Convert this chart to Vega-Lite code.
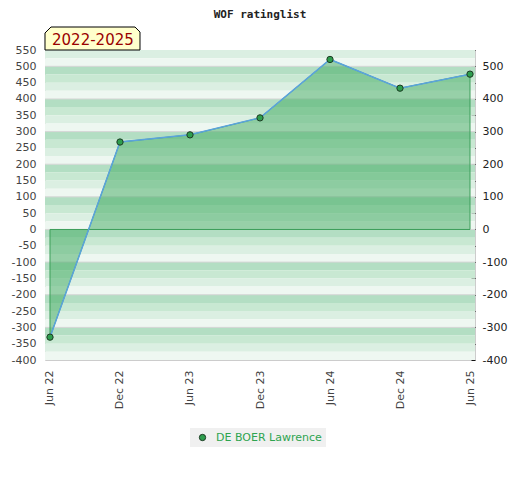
{
  "$schema": "https://vega.github.io/schema/vega-lite/v6.json",
  "description": "WOF ratinglist",
  "autosize": {"type": "none"},
  "padding": {"left": 45, "top": 50, "right": 45, "bottom": 120},
  "width": 430,
  "height": 310,
  "title": {
    "text": "WOF ratinglist",
    "font": "DejaVu Sans Mono",
    "fontSize": 11,
    "fontWeight": "bold",
    "color": "#222222",
    "anchor": "middle",
    "baseline": "alphabetic",
    "offset": 9,
    "dy": 13
  },
  "datasets": {
    "ratings": [
      {"period": "Jun 22", "rating": -330, "player": "DE BOER Lawrence"},
      {"period": "Dec 22", "rating": 268, "player": "DE BOER Lawrence"},
      {"period": "Jun 23", "rating": 290, "player": "DE BOER Lawrence"},
      {"period": "Dec 23", "rating": 342, "player": "DE BOER Lawrence"},
      {"period": "Jun 24", "rating": 521, "player": "DE BOER Lawrence"},
      {"period": "Dec 24", "rating": 433, "player": "DE BOER Lawrence"},
      {"period": "Jun 25", "rating": 476, "player": "DE BOER Lawrence"}
    ],
    "stripes": [
      {"from": 550, "to": 525, "band": "C"},
      {"from": 525, "to": 500, "band": "D"},
      {"from": 500, "to": 475, "band": "A"},
      {"from": 475, "to": 450, "band": "B"},
      {"from": 450, "to": 425, "band": "C"},
      {"from": 425, "to": 400, "band": "D"},
      {"from": 400, "to": 375, "band": "A"},
      {"from": 375, "to": 350, "band": "B"},
      {"from": 350, "to": 325, "band": "C"},
      {"from": 325, "to": 300, "band": "D"},
      {"from": 300, "to": 275, "band": "A"},
      {"from": 275, "to": 250, "band": "B"},
      {"from": 250, "to": 225, "band": "C"},
      {"from": 225, "to": 200, "band": "D"},
      {"from": 200, "to": 175, "band": "A"},
      {"from": 175, "to": 150, "band": "B"},
      {"from": 150, "to": 125, "band": "C"},
      {"from": 125, "to": 100, "band": "D"},
      {"from": 100, "to": 75, "band": "A"},
      {"from": 75, "to": 50, "band": "B"},
      {"from": 50, "to": 25, "band": "C"},
      {"from": 25, "to": 0, "band": "D"},
      {"from": 0, "to": -25, "band": "A"},
      {"from": -25, "to": -50, "band": "B"},
      {"from": -50, "to": -75, "band": "C"},
      {"from": -75, "to": -100, "band": "D"},
      {"from": -100, "to": -125, "band": "A"},
      {"from": -125, "to": -150, "band": "B"},
      {"from": -150, "to": -175, "band": "C"},
      {"from": -175, "to": -200, "band": "D"},
      {"from": -200, "to": -225, "band": "A"},
      {"from": -225, "to": -250, "band": "B"},
      {"from": -250, "to": -275, "band": "C"},
      {"from": -275, "to": -300, "band": "D"},
      {"from": -300, "to": -325, "band": "A"},
      {"from": -325, "to": -350, "band": "B"},
      {"from": -350, "to": -375, "band": "C"},
      {"from": -375, "to": -400, "band": "D"}
    ],
    "gridlines": [
      {"value": 500}, {"value": 400}, {"value": 300}, {"value": 200},
      {"value": 100}, {"value": 0}, {"value": -100}, {"value": -200},
      {"value": -300}
    ]
  },
  "layer": [
    {
      "data": {"name": "stripes"},
      "mark": "rect",
      "encoding": {
        "y": {
          "field": "from",
          "type": "quantitative",
          "scale": {"domain": [-400, 550], "nice": false, "zero": false},
          "axis": {
            "orient": "left",
            "title": null,
            "values": [550, 500, 450, 400, 350, 300, 250, 200, 150, 100, 50, 0, -50, -100, -150, -200, -250, -300, -350, -400],
            "labelExpr": "'' + datum.value",
            "ticks": false,
            "domain": false,
            "grid": false,
            "labelPadding": 9,
            "labelColor": "#444444",
            "labelFontSize": 11
          }
        },
        "y2": {"field": "to"},
        "fill": {
          "field": "band",
          "type": "nominal",
          "scale": {"domain": ["A", "B", "C", "D"], "range": ["#b3dec3", "#c8e8d2", "#dbefe2", "#eef7f1"]},
          "legend": null
        }
      }
    },
    {
      "data": {"name": "gridlines"},
      "mark": {"type": "rule", "color": "#d6d6d6", "strokeWidth": 1},
      "encoding": {
        "y": {
          "field": "value",
          "type": "quantitative",
          "scale": {"domain": [-400, 550], "nice": false, "zero": false},
          "axis": {
            "orient": "right",
            "title": null,
            "values": [550, 500, 450, 400, 350, 300, 250, 200, 150, 100, 50, 0, -50, -100, -150, -200, -250, -300, -350, -400],
            "labelExpr": "datum.value % 100 === 0 ? '' + datum.value : ''",
            "ticks": true,
            "tickSize": 4,
            "tickColor": "#111111",
            "offset": -4,
            "domain": false,
            "grid": false,
            "labelPadding": 7,
            "labelColor": "#222222",
            "labelFontSize": 11
          }
        }
      }
    },
    {
      "data": {"name": "ratings"},
      "mark": {"type": "area", "fill": "#40aa60", "fillOpacity": 0.5, "stroke": "#3c9e5a", "strokeWidth": 1},
      "encoding": {
        "x": {
          "field": "period",
          "type": "ordinal",
          "scale": {"type": "point", "padding": 0.0714, "domain": ["Jun 22", "Dec 22", "Jun 23", "Dec 23", "Jun 24", "Dec 24", "Jun 25"]}
        },
        "y": {"field": "rating", "type": "quantitative", "scale": {"domain": [-400, 550], "nice": false, "zero": false}, "axis": null},
        "y2": {"datum": 0}
      }
    },
    {
      "data": {"name": "ratings"},
      "mark": {"type": "line", "color": "#5ba3dd", "strokeWidth": 1.5},
      "encoding": {
        "x": {
          "field": "period",
          "type": "ordinal",
          "scale": {"type": "point", "padding": 0.0714, "domain": ["Jun 22", "Dec 22", "Jun 23", "Dec 23", "Jun 24", "Dec 24", "Jun 25"]}
        },
        "y": {"field": "rating", "type": "quantitative", "scale": {"domain": [-400, 550], "nice": false, "zero": false}, "axis": null}
      }
    },
    {
      "data": {"name": "ratings"},
      "mark": {"type": "point", "filled": true, "size": 40, "stroke": "#1d3b24", "strokeWidth": 1, "opacity": 1},
      "encoding": {
        "x": {
          "field": "period",
          "type": "ordinal",
          "scale": {"type": "point", "padding": 0.0714, "domain": ["Jun 22", "Dec 22", "Jun 23", "Dec 23", "Jun 24", "Dec 24", "Jun 25"]}
        },
        "y": {"field": "rating", "type": "quantitative", "scale": {"domain": [-400, 550], "nice": false, "zero": false}, "axis": null},
        "color": {
          "field": "player",
          "type": "nominal",
          "scale": {"range": ["#2e9e4e"]},
          "legend": {
            "title": null,
            "orient": "none",
            "legendX": 145,
            "legendY": 378,
            "fillColor": "#f0f0f0",
            "padding": 4,
            "labelColor": "#2ea44f",
            "labelFontSize": 11,
            "labelOffset": 8,
            "symbolType": "circle",
            "symbolSize": 40,
            "symbolOffset": 3,
            "symbolStrokeColor": "#1d3b24",
            "symbolStrokeWidth": 1
          }
        }
      }
    },
    {
      "data": {"values": [{"label": "2022-2025"}]},
      "mark": {
        "type": "point",
        "shape": "M -0.1 0 L -0.1 -0.34 L 0.02 -0.46 L 1.7 -0.46 L 1.8 -0.36 L 1.8 0 Z",
        "size": 10000,
        "filled": true,
        "fill": "#ffffcc",
        "stroke": "#000000",
        "strokeWidth": 1,
        "opacity": 1
      },
      "encoding": {
        "x": {
          "datum": "Jun 22",
          "type": "ordinal",
          "scale": {"type": "point", "padding": 0.0714, "domain": ["Jun 22", "Dec 22", "Jun 23", "Dec 23", "Jun 24", "Dec 24", "Jun 25"]}
        },
        "y": {"datum": 550, "type": "quantitative", "scale": {"domain": [-400, 550], "nice": false, "zero": false}, "axis": null}
      }
    },
    {
      "data": {"values": [{"label": "2022-2025"}]},
      "mark": {"type": "text", "align": "left", "baseline": "alphabetic", "dx": 2, "dy": -5, "font": "DejaVu Sans", "fontSize": 15, "color": "#990000"},
      "encoding": {
        "x": {
          "datum": "Jun 22",
          "type": "ordinal",
          "scale": {"type": "point", "padding": 0.0714, "domain": ["Jun 22", "Dec 22", "Jun 23", "Dec 23", "Jun 24", "Dec 24", "Jun 25"]}
        },
        "y": {"datum": 550, "type": "quantitative", "scale": {"domain": [-400, 550], "nice": false, "zero": false}, "axis": null},
        "text": {"field": "label"}
      }
    }
  ],
  "resolve": {"axis": {"y": "independent"}},
  "config": {
    "font": "DejaVu Sans",
    "view": {"stroke": "#cccccc"},
    "axisX": {
      "title": null,
      "labelAngle": 270,
      "labelColor": "#444444",
      "labelFontSize": 11,
      "labelPadding": 10,
      "ticks": false,
      "domain": false,
      "grid": false
    }
  }
}
